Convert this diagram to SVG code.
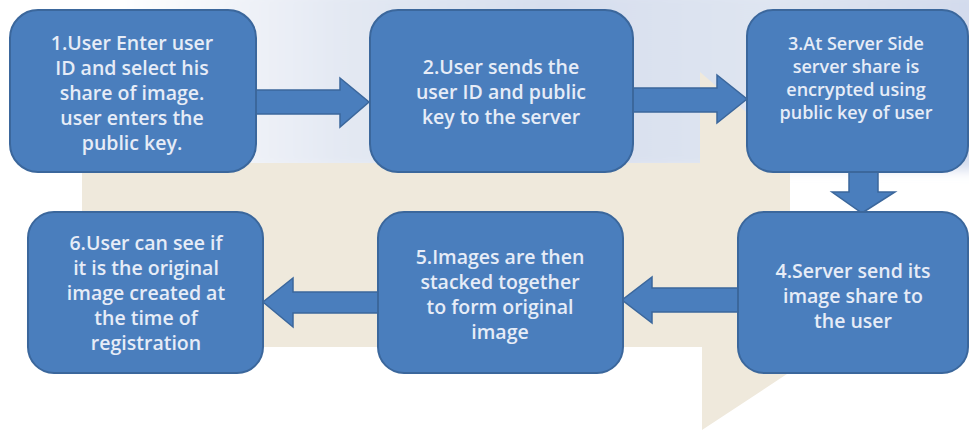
<svg xmlns="http://www.w3.org/2000/svg" width="969" height="430" viewBox="0 0 969 430">
  <defs>
    <linearGradient id="sky" x1="0" y1="0" x2="1" y2="0">
      <stop offset="0" stop-color="#ffffff"/>
      <stop offset="0.25" stop-color="#e4e9f3"/>
      <stop offset="0.5" stop-color="#d6deee"/>
      <stop offset="0.75" stop-color="#dfe5f1"/>
      <stop offset="1" stop-color="#d2daec"/>
    </linearGradient>
    <filter id="blur" x="-10%" y="-10%" width="120%" height="120%">
      <feGaussianBlur stdDeviation="6"/>
    </filter>
  </defs>
  <style>
    .box { fill: #4a7ebd; stroke: #3b679c; stroke-width: 2; }
    .arr { fill: #4a7ebd; stroke: #3b679c; stroke-width: 1.5; stroke-linejoin: miter; }
    .lbl { font-family: "Open Sans", "Liberation Sans", sans-serif; font-size: 19.5px; font-weight: 600; fill: #e6ecf7; text-anchor: middle; }
    .sm { font-size: 18px; }
  </style>
  <rect width="969" height="430" fill="#ffffff"/>
  <!-- background decoration -->
  <g id="background">
    <rect x="120" y="-10" width="860" height="180" fill="url(#sky)" filter="url(#blur)"/>
    <polygon points="82,163 700,163 700,72 790,150 790,372 702,430 702,347 82,347" fill="#efe9dc"/>
  </g>

  <g id="connectors">
    <polygon class="arr" points="256,90 340,90 340,78 369,102 340,127 340,114 256,114"/>
    <polygon class="arr" points="633,88 717,88 717,75 747,99 717,123 717,112 633,112"/>
    <polygon class="arr" points="849,172 878,172 878,192 895,192 862,213 832,192 849,192"/>
    <polygon class="arr" points="738,288 652,288 652,277 622,300 652,323 652,312 738,312"/>
    <polygon class="arr" points="378,292 293,292 293,278 263,302 293,327 293,313 378,313"/>
  </g>

  <g id="node1">
    <rect class="box" x="10" y="10" width="246" height="162" rx="28"/>
    <text class="lbl" x="132" y="50">1.User Enter user</text>
    <text class="lbl" x="132" y="75">ID and select his</text>
    <text class="lbl" x="132" y="100">share of image.</text>
    <text class="lbl" x="132" y="125">user enters the</text>
    <text class="lbl" x="132" y="150">public key.</text>
  </g>
  <g id="node2">
    <rect class="box" x="370" y="10" width="263" height="162" rx="28"/>
    <text class="lbl" x="501" y="74">2.User sends the</text>
    <text class="lbl" x="501" y="99">user ID and public</text>
    <text class="lbl" x="501" y="124">key to the server</text>
  </g>
  <g id="node3">
    <rect class="box" x="747" y="10" width="221" height="162" rx="26"/>
    <text class="lbl sm" x="856" y="50">3.At Server Side</text>
    <text class="lbl sm" x="856" y="73">server share is</text>
    <text class="lbl sm" x="856" y="96">encrypted using</text>
    <text class="lbl sm" x="856" y="119">public key of user</text>
  </g>
  <g id="node4">
    <rect class="box" x="738" y="212" width="230" height="161" rx="26"/>
    <text class="lbl" x="853" y="278">4.Server send its</text>
    <text class="lbl" x="853" y="303">image share to</text>
    <text class="lbl" x="853" y="328">the user</text>
  </g>
  <g id="node5">
    <rect class="box" x="378" y="212" width="245" height="161" rx="26"/>
    <text class="lbl" x="500" y="264">5.Images are then</text>
    <text class="lbl" x="500" y="289">stacked together</text>
    <text class="lbl" x="500" y="314">to form original</text>
    <text class="lbl" x="500" y="339">image</text>
  </g>
  <g id="node6">
    <rect class="box" x="28" y="212" width="235" height="161" rx="26"/>
    <text class="lbl" x="146" y="250">6.User can see if</text>
    <text class="lbl" x="146" y="275">it is the original</text>
    <text class="lbl" x="146" y="300">image created at</text>
    <text class="lbl" x="146" y="325">the time of</text>
    <text class="lbl" x="146" y="350">registration</text>
  </g>
</svg>
